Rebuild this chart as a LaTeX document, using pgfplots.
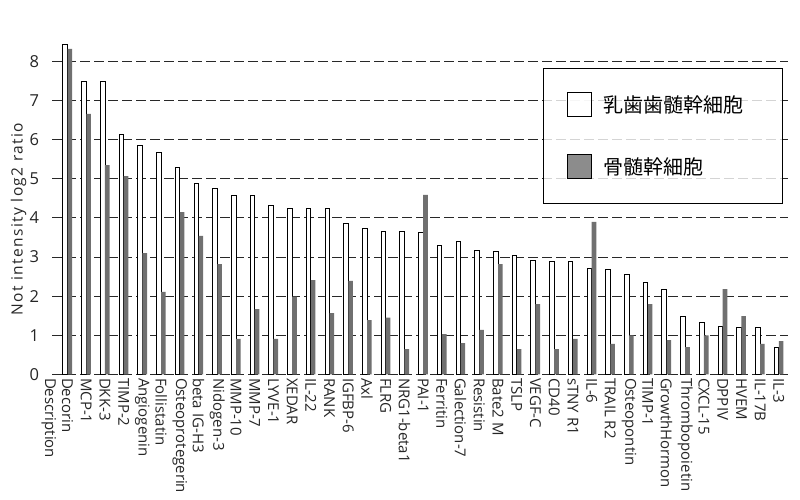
\documentclass[border=0pt]{standalone}
\usepackage{pgfplots}
\pgfplotsset{compat=1.18}
\usepackage{fontspec}
\setmainfont{Open Sans}
\newfontfamily\labfont{Open Sans}[LetterSpace=9]
\newfontfamily\cjk{Noto Sans CJK JP}
\definecolor{bargray}{RGB}{112,112,112}
\definecolor{gridc}{RGB}{40,40,40}
\pgfplotstableread{
x w g
1 8.42 8.32
2 7.48 6.66
3 7.48 5.35
4 6.14 5.07
5 5.86 3.10
6 5.67 2.11
7 5.29 4.15
8 4.88 3.54
9 4.76 2.82
10 4.58 0.91
11 4.58 1.67
12 4.32 0.91
13 4.25 1.99
14 4.25 2.41
15 4.25 1.57
16 3.85 2.39
17 3.73 1.39
18 3.66 1.45
19 3.66 0.65
20 3.63 4.59
21 3.30 1.03
22 3.39 0.80
23 3.17 1.14
24 3.15 2.82
25 3.05 0.65
26 2.92 1.80
27 2.89 0.65
28 2.89 0.91
29 2.71 3.90
30 2.69 0.78
31 2.56 1.00
32 2.36 1.80
33 2.18 0.88
34 1.49 0.70
35 1.33 1.00
36 1.23 2.18
37 1.21 1.49
38 1.21 0.78
39 0.70 0.85
}\datatable
\begin{document}
\begin{tikzpicture}[x=1pt,y=1pt]
\useasboundingbox (0,0) rectangle (800,500);
\fill[white] (0,0) rectangle (800,500);
\begin{axis}[
 at={(52pt,125.5pt)}, anchor=south west,
 scale only axis, width=736pt, height=336.6pt,
 xmin=0.17, xmax=39.49, ymin=0, ymax=8.6,
 clip=false,
 ybar=0pt, bar width=4.6pt,
 axis line style={draw=none},
 major tick length=0pt,
 ytick={0,...,8},
 /pgf/number format/assume math mode=true,
 ymajorgrids,
 grid style={gridc, dash pattern=on 10pt off 4pt, line width=0.9pt},
 xtick={1,...,39},
 xticklabels={Decorin,MCP-1,DKK-3,TIMP-2,Angiogenin,Follistatin,Osteoprotegerin,beta IG-H3,Nidogen-3,MMP-10,MMP-7,LYVE-1,XEDAR,IL-22,RANK,IGFBP-6,Axl,FLRG,NRG1-beta1,PAI-1,Ferritin,Galection-7,Resistin,Bate2 M,TSLP,VEGF-C,CD40,sTNY R1,IL-6,TRAIL R2,Osteopontin,TIMP-1,GrowthHormon,Thrombopoietin,CXCL-15,DPPIV,HVEM,IL-17B,IL-3},
 xticklabel style={rotate=-90, anchor=west, font=\fontsize{15}{15}\selectfont, text=black!85},
 yticklabel style={font=\fontsize{16.5}{16.5}\selectfont, xshift=-9.5pt, text=black!85},
 ylabel={Not intensity log2 ratio},
 ylabel style={at={(axis description cs:-0.0455,0.462)}, anchor=center, font=\labfont\fontsize{15.5}{15.5}\selectfont, text=black!85},
 legend image code/.code={\draw[#1, line width=1pt] (0pt,-12pt) rectangle (24pt,12pt);},
 legend style={at={(0.667,0.9106)}, anchor=north west, draw=black, line width=1pt,
   fill=white, fill opacity=0.8, text opacity=1, inner xsep=24pt, inner ysep=24pt,
   row sep=37pt, column sep=11pt, nodes={inner sep=0pt},
   font=\cjk\fontsize{20}{20}\selectfont},
 legend cell align=left,
]
\addplot[fill=white, draw=black, line width=0.9pt] table[x=x, y=w] {\datatable};
\addlegendentry{\makebox[155pt][l]{乳歯歯髄幹細胞}}
\addplot[fill=bargray, draw=none] table[x=x, y=g] {\datatable};
\addlegendentry{\makebox[155pt][l]{骨髄幹細胞}}
\node[rotate=-90, anchor=west, font=\fontsize{15}{15}\selectfont, text=black!85] at (axis cs:0,0) {Description};
\end{axis}
\end{tikzpicture}
\end{document}
